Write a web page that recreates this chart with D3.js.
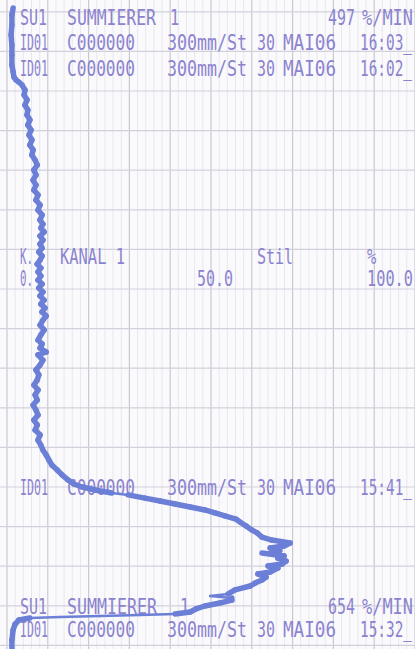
<!DOCTYPE html>
<html>
<head>
<meta charset="utf-8">
<script src="https://cdn.jsdelivr.net/npm/d3@7"></script>
<style>
  html, body { margin: 0; padding: 0; background: #fafafc; }
  #graf { width: 415px; height: 649px; }
  .texto { font-family: 'DejaVu Sans Mono', monospace; font-size: 15.5px; fill: #8b83cf; }
</style>
</head>
<body>
<div id="graf"></div>
<script>
const minutos = [-0.18,0.27,0.78,1.08,1.28,1.38,1.43,1.48,1.54,1.59,1.69,1.84,1.99,2.14,2.29,2.39,2.49,2.60,2.80,3.00,
  3.15,3.30,3.45,3.61,3.71,3.91,4.01,4.11,4.26,4.41,4.52,4.67,4.77,4.92,5.02,5.17,5.32,5.47,5.68,5.83,
  6.03,6.23,6.38,6.54,6.69,6.84,6.99,7.14,7.29,7.44,7.60,7.70,7.85,8.00,8.15,8.35,8.61,8.86,9.11,9.36,
  9.62,9.87,10.12,10.37,10.63,10.88,11.13,11.38,11.64,11.89,12.14,12.39,12.65,12.90,13.15,13.40,13.66,13.91,14.16,14.41,
  14.67,14.82,15.02,15.22,15.42,15.68,15.93,16.18,16.43,16.64,16.84,17.04,17.24,17.44,17.65,17.85,18.05,18.25,18.45,18.66,
  18.86,19.06,19.26,19.46,19.67,19.87,20.07,20.27,20.47,20.68,20.88,21.08,21.28,21.48,21.74,21.99,22.24,22.49,22.75,23.00,
  23.25,23.50,23.76,24.01,24.26,24.51,24.77,25.02,25.27,25.53,25.78,26.03,26.28,26.54,26.79,27.04,27.29,27.55,27.80,28.05,
  28.30,28.45,28.56,28.71,28.96,29.31,29.82,30.32,30.83,31.33,31.84,32.19]
const porcentaje = [1.2,1.2,1.5,2.0,2.9,5.6,13.0,22.8,32.6,41.2,44.9,46.3,48.5,52.2,55.1,55.1,49.8,54.2,55.9,59.6,
  60.8,62.5,63.5,61.5,64.5,66.4,64.0,67.4,68.4,66.4,67.9,62.5,66.9,64.5,67.9,69.4,64.9,62.5,61.3,60.0,
  58.6,57.1,56.1,53.4,51.0,48.5,44.9,41.2,37.5,33.8,29.7,25.7,21.6,18.4,16.4,15.0,13.5,12.3,11.0,10.3,
  9.6,8.8,8.3,7.6,8.1,6.9,7.4,6.6,7.6,7.1,6.4,7.4,6.9,7.6,6.6,7.4,7.8,7.1,8.1,8.8,
  7.6,9.6,8.1,8.6,7.6,8.3,9.1,8.1,8.8,9.6,8.6,9.3,8.3,9.1,8.1,8.8,7.8,8.6,7.6,8.3,
  7.6,8.3,7.4,8.1,8.6,7.8,8.6,8.1,8.8,8.1,9.1,8.3,8.8,8.1,8.6,7.6,8.1,7.1,7.6,6.6,
  7.1,6.4,7.1,6.6,7.4,6.9,6.1,6.4,5.6,6.1,5.4,5.9,5.1,5.6,4.9,5.1,4.4,4.9,4.2,4.4,
  3.7,2.9,2.2,1.7,1.5,1.2,1.2,1.2,1.0,1.2,1.2,1.5]

// Textos impresos por el registrador
const filaSuma1   = ['SU1', 'SUMMIERER', '1', '497', '%/MIN']
const filaId1     = ['ID01', 'C000000', '300mm/St', '30', 'MAI06', '16:03_']
const filaId2     = ['ID01', 'C000000', '300mm/St', '30', 'MAI06', '16:02_']
const filaCanal   = ['K.', 'KANAL 1', 'Stil', '%']
const filaEscala  = ['0.', '50.0', '100.0']
const filaId3     = ['ID01', 'C000000', '300mm/St', '30', 'MAI06', '15:41_']
const filaSuma2   = ['SU1', 'SUMMIERER', '1', '654', '%/MIN']
const filaId4     = ['ID01', 'C000000', '300mm/St', '30', 'MAI06', '15:32_']

ancho_total = 415
alto_total = 649

svg = d3.select('#graf').append('svg')
        .attr('width', ancho_total)
        .attr('height', alto_total)

svg.append('rect')
   .attr('width', ancho_total)
   .attr('height', alto_total)
   .attr('fill', '#fafafc')

// Escaladores: % en horizontal, minutos en vertical
x = d3.scaleLinear().domain([0, 100]).range([7, 415])
y = d3.scaleLinear().domain([0, 32]).range([645.4, 11.8])

// Rejilla menor vertical (cada 2 %)
g = svg.append('g')
g.selectAll('line.menor')
 .data(d3.range(0, 101, 2).filter(d => d % 10 != 0))
 .enter().append('line')
 .attr('class', 'menor')
 .attr('x1', d => x(d)).attr('x2', d => x(d))
 .attr('y1', 0).attr('y2', alto_total)
 .attr('stroke', '#e8e7ee').attr('stroke-width', 1)

// Rejilla mayor
g.selectAll('line.vmayor')
 .data(d3.range(0, 101, 10))
 .enter().append('line')
 .attr('class', 'vmayor')
 .attr('x1', d => x(d)).attr('x2', d => x(d))
 .attr('y1', 0).attr('y2', alto_total)
 .attr('stroke', '#c9c8d3').attr('stroke-width', 1.2)

g.selectAll('line.hmayor')
 .data(d3.range(0, 33, 2))
 .enter().append('line')
 .attr('class', 'hmayor')
 .attr('x1', 0).attr('x2', ancho_total)
 .attr('y1', d => y(d)).attr('y2', d => y(d))
 .attr('stroke', '#d2d1db').attr('stroke-width', 1.2)

// Textos: una fila con su linea base y columnas [x0, x1]; letra alta y estrecha
function fila(textos, base, cols) {
  textos.forEach((t, i) => {
    txt = svg.append('text')
             .attr('class', 'texto')
             .attr('transform', `translate(${cols[i][0]}, ${base}) scale(1, 1.35)`)
             .text(t)
    if (t.length > 1) {
      txt.attr('textLength', cols[i][1] - cols[i][0])
         .attr('lengthAdjust', 'spacingAndGlyphs')
    }
  })
}
colsId = [[20, 48], [67, 135], [167, 247], [257, 275], [283, 336], [360, 412]]
fila(filaSuma1, 25, [[20, 47], [67, 156], [170, 175], [328, 355], [362, 413]])
fila(filaId1, 50, colsId)
fila(filaId2, 76, colsId)
fila(filaCanal, 264, [[20, 33], [60, 125], [257, 293], [367, 377]])
fila(filaEscala, 286, [[20, 33], [197, 233], [367, 413]])
fila(filaId3, 495, colsId)
fila(filaSuma2, 614, [[20, 47], [67, 157], [180, 185], [328, 355], [362, 413]])
fila(filaId4, 637, colsId)

// Trazo de la pluma: tramos rapidos (casi horizontales) quedan mas finos
datos = minutos.map((m, i) => ({ m: m, p: porcentaje[i] }))
svg.append('g')
   .selectAll('line.tramo')
   .data(d3.pairs(datos))
   .enter().append('line')
   .attr('class', 'tramo')
   .attr('x1', d => x(d[0].p)).attr('y1', d => y(d[0].m))
   .attr('x2', d => x(d[1].p)).attr('y2', d => y(d[1].m))
   .attr('stroke', '#6c7fd7')
   .attr('stroke-linecap', 'round')
   .attr('stroke-width', d => {
     dx = Math.abs(x(d[1].p) - x(d[0].p))
     dy = Math.abs(y(d[1].m) - y(d[0].m))
     return dx > 8 * Math.max(dy, 0.5) ? 2.5 : 5.5
   })
</script>
</body>
</html>
